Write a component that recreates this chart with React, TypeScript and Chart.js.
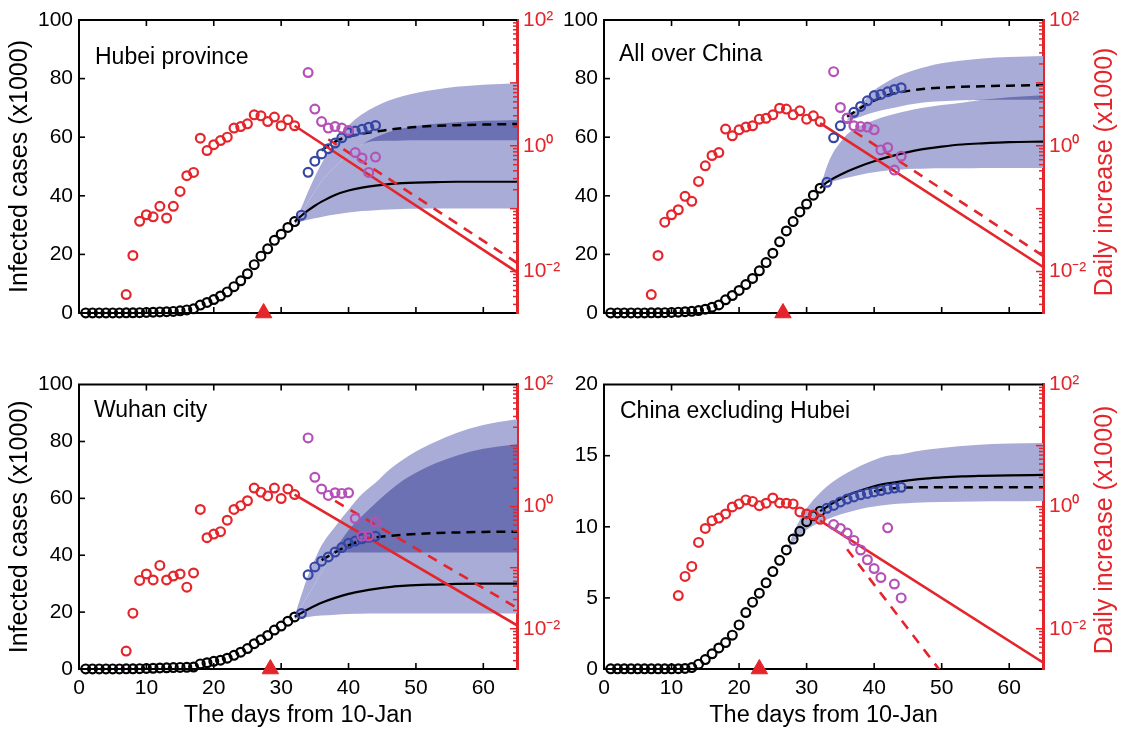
import React, { useEffect, useRef } from 'react';
import { Chart, registerables } from 'chart.js';

Chart.register(...registerables);

const FONT = '"Liberation Sans", Arial, Helvetica, sans-serif';
const RED = '#e4252b';
const BLUE = '#3646a4';
const MAGENTA = '#b550b6';
const BAND_LIGHT = '#a9acd6';
const BAND_DARK = '#6c71b3';

// ---- shared x positions (days from 10-Jan) ----
const cumDays = [1, 2, 3, 4, 5, 6, 7, 8, 9, 10, 11, 12, 13, 14, 15, 16, 17, 18, 19, 20, 21, 22, 23, 24, 25, 26, 27, 28, 29, 30, 31, 32];
const newDays = [33, 34, 35, 36, 37, 38, 39, 40, 41, 42, 43, 44];
const dailyDays = [7, 8, 9, 10, 11, 12, 13, 14, 15, 16, 17, 18, 19, 20, 21, 22, 23, 24, 25, 26, 27, 28, 29, 30, 31, 32];
const exDailyDays = [11, 12, 13, 14, 15, 16, 17, 18, 19, 20, 21, 22, 23, 24, 25, 26, 27, 28, 29, 30, 31, 32];
const newDailyDays = [34, 35, 36, 37, 38, 39, 40, 41, 42, 43, 44];
const fitDays = [32, 33, 34, 35, 36, 38, 40, 42, 44, 46, 48, 50, 53, 56, 60, 65];
const exBandDays = [27, 28, 29, 30, 32, 34, 36, 38, 40, 42, 44, 46, 50, 55, 60, 65];

const xTicks = [0, 10, 20, 30, 40, 50, 60];
const yTicks100 = [0, 20, 40, 60, 80, 100];
const yTicks20 = [0, 5, 10, 15, 20];
const logLabelExps = [-2, 0, 2];
const LOG_MIN = 0.00219;
const LOG_MAX = 100;

// ---- Hubei province ----
const hubeiCum = [0.04, 0.04, 0.04, 0.04, 0.04, 0.04, 0.05, 0.06, 0.12, 0.2, 0.27, 0.38, 0.44, 0.55, 0.73, 1.05, 1.42, 2.7, 3.6, 4.6, 5.8, 7.2, 9.0, 11.0, 13.4, 16.5, 19.4, 21.9, 24.8, 26.9, 29.2, 31.2];
const hubeiCumNew = [33.4, 48.0, 51.8, 54.3, 56.1, 58.0, 59.8, 61.5, 62.1, 62.7, 63.4, 64.0];
const hubeiDaily = [0.0043, 0.018, 0.063, 0.08, 0.074, 0.109, 0.071, 0.109, 0.188, 0.334, 0.377, 1.32, 0.84, 1.04, 1.21, 1.37, 1.91, 2.02, 2.23, 3.1, 2.99, 2.43, 2.86, 2.08, 2.59, 2.08];
const hubeiDailyNew = [14.6, 3.83, 2.43, 1.91, 2.02, 1.91, 1.75, 0.78, 0.64, 0.377, 0.66];
const hubeiFit = [31.2, 33.2, 35.0, 36.6, 38.0, 40.3, 41.8, 42.8, 43.5, 44.0, 44.3, 44.5, 44.7, 44.8, 44.8, 44.8];
const hubeiFitNew = [null, null, null, null, 55.5, 58.5, 60.2, 61.2, 61.9, 62.6, 63.1, 63.5, 63.9, 64.1, 64.3, 64.5];
const hubeiBandLo = [30.4, 31.2, 31.8, 32.3, 32.8, 33.6, 34.3, 34.8, 35.1, 35.3, 35.5, 35.6, 35.7, 35.7, 35.7, 35.7];
const hubeiBandHi = [31.2, 34, 38, 41.5, 45, 50, 54, 57.5, 60, 61.8, 63, 63.8, 64.6, 65.1, 65.6, 65.9];
const hubeiBand2Lo = [31.2, 34, 38, 41.5, 45, 50, 54, 57.5, 58.7, 58.8, 58.9, 59, 59, 59, 59, 59];
const hubeiBand2Hi = [31.2, 36, 41.5, 46.5, 51, 58.5, 64, 67.8, 70.5, 72.5, 74, 75.1, 76.3, 77.2, 77.9, 78.4];
const hubeiTrendDays = [32, 65];
const hubeiTrend = [2.08, 0.0098];
const hubeiTrendNewDays = [37, 65];
const hubeiTrendNew = [1.27, 0.0137];
const hubeiPeak = 27.4;

// ---- All over China ----
const chinaCum = [0.04, 0.04, 0.04, 0.04, 0.04, 0.04, 0.05, 0.06, 0.12, 0.2, 0.29, 0.44, 0.57, 0.83, 1.29, 1.98, 2.74, 4.5, 5.97, 7.7, 9.7, 11.8, 14.4, 17.2, 20.4, 24.3, 28.0, 31.2, 34.5, 37.2, 40.2, 42.6];
const chinaCumNew = [44.6, 59.8, 63.9, 66.5, 68.5, 70.5, 72.4, 74.2, 74.6, 75.5, 76.3, 76.9];
const chinaDaily = [0.0043, 0.018, 0.061, 0.08, 0.096, 0.157, 0.131, 0.271, 0.48, 0.7, 0.78, 1.84, 1.44, 1.79, 1.98, 2.08, 2.65, 2.74, 3.1, 3.96, 3.83, 3.1, 3.6, 2.65, 2.99, 2.43];
const chinaDailyNew = [15.1, 4.06, 2.75, 2.08, 2.02, 1.98, 1.79, 0.86, 0.94, 0.41, 0.68];
const chinaFit = [42.6, 44.6, 46.0, 47.2, 48.3, 50.2, 51.8, 53.2, 54.4, 55.4, 56.2, 56.8, 57.5, 57.9, 58.3, 58.5];
const chinaFitNew = [null, null, null, null, 67, 70, 72.5, 74.3, 75.4, 76.1, 76.6, 76.9, 77.2, 77.4, 77.6, 77.8];
const chinaBandLo = [42.6, 44.2, 45.0, 45.6, 46.2, 47.2, 48.0, 48.6, 49.0, 49.2, 49.3, 49.4, 49.4, 49.5, 49.5, 49.5];
const chinaBandHi = [42.6, 50, 55, 58.3, 61, 64, 65.8, 67.3, 68.5, 69.5, 70.3, 71, 71.8, 72.8, 73.6, 74.3];
const chinaBand2Lo = [null, null, null, null, 65.5, 67, 68.5, 69.6, 70.6, 71.4, 72, 72.3, 72.6, 72.7, 72.8, 72.8];
const chinaBand2Hi = [null, null, null, null, 66, 71, 76, 79, 81.3, 82.9, 84.2, 85.2, 86.2, 86.9, 87.4, 87.7];
const chinaTrendDays = [32, 65];
const chinaTrend = [2.29, 0.0118];
const chinaTrendNewDays = [37, 65];
const chinaTrendNew = [1.7, 0.0178];
const chinaPeak = 26.5;

// ---- Wuhan city ----
const wuhanCum = [0.04, 0.04, 0.04, 0.04, 0.04, 0.04, 0.05, 0.06, 0.12, 0.2, 0.26, 0.36, 0.43, 0.5, 0.57, 0.62, 0.7, 1.8, 2.2, 2.7, 3.1, 3.8, 4.8, 5.9, 7.2, 8.9, 10.3, 11.8, 13.7, 15.1, 16.8, 18.3];
const wuhanCumNew = [19.5, 33.1, 35.9, 37.9, 39.4, 41.1, 42.7, 44.2, 45.0, 45.8, 46.3, 46.7];
const wuhanDaily = [0.0043, 0.018, 0.062, 0.079, 0.063, 0.109, 0.063, 0.073, 0.079, 0.048, 0.082, 0.9, 0.31, 0.355, 0.39, 0.6, 0.9, 1.04, 1.25, 2.02, 1.73, 1.5, 2.02, 1.36, 1.95, 1.58];
const wuhanDailyNew = [13.4, 3.03, 1.95, 1.53, 1.69, 1.65, 1.69, 0.64, 0.33, 0.33, 0.56];
const wuhanFit = [18.4, 19.7, 21.0, 22.2, 23.3, 25.0, 26.4, 27.4, 28.2, 28.8, 29.2, 29.5, 29.7, 29.9, 30.0, 30.0];
const wuhanFitNew = [null, null, null, null, 38.3, 41.0, 43.5, 45.2, 46.3, 46.8, 47.2, 47.5, 47.8, 48.0, 48.2, 48.3];
const wuhanBandLo = [17.6, 18.0, 18.3, 18.6, 18.8, 19.1, 19.3, 19.4, 19.5, 19.5, 19.5, 19.5, 19.5, 19.5, 19.5, 19.5];
const wuhanBandHi = [18.5, 22, 26, 30, 34, 42, 48.8, 53.8, 58.3, 62.5, 66.2, 69, 72.4, 75, 77.4, 79];
const wuhanBand2Lo = [18.5, 22, 26, 30, 34, 40.8, 41, 41, 41, 41, 41, 41, 41, 41, 41, 41];
const wuhanBand2Hi = [18.5, 26, 33, 38.5, 43.5, 50, 56, 61.5, 65.5, 70, 73.5, 76.5, 80, 83, 85.8, 87.8];
const wuhanTrendDays = [32, 65];
const wuhanTrend = [1.58, 0.0114];
const wuhanTrendNewDays = [38, 65];
const wuhanTrendNew = [1.24, 0.022];
const wuhanPeak = 28.4;

// ---- China excluding Hubei ----
const exCum = [0.01, 0.01, 0.01, 0.01, 0.01, 0.01, 0.01, 0.01, 0.01, 0.01, 0.02, 0.04, 0.1, 0.34, 0.66, 1.07, 1.48, 1.86, 2.38, 3.1, 3.97, 4.7, 5.33, 6.06, 6.85, 7.64, 8.37, 9.14, 9.68, 10.36, 10.77, 11.1];
const exCumNew = [11.3, 11.5, 11.75, 11.95, 12.1, 12.25, 12.35, 12.45, 12.55, 12.65, 12.72, 12.78];
const exDaily = [0.035, 0.072, 0.105, 0.26, 0.44, 0.59, 0.65, 0.76, 0.99, 1.11, 1.29, 1.22, 1.04, 1.14, 1.39, 1.15, 1.14, 1.11, 0.82, 0.76, 0.73, 0.62];
const exDailyNew = [0.51, 0.44, 0.37, 0.28, 0.195, 0.135, 0.097, 0.069, 0.45, 0.054, 0.032];
const exFit = [11.1, 11.4, 11.7, 11.95, 12.2, 12.55, 12.85, 13.05, 13.2, 13.32, 13.4, 13.47, 13.54, 13.58, 13.62, 13.65];
const exFitNew = [null, null, null, null, null, null, 12.5, 12.67, 12.75, 12.77, 12.78, 12.78, 12.78, 12.78, 12.78, 12.78];
const exBandLo = [8.3, 8.9, 9.4, 9.8, 10.3, 10.7, 11.0, 11.25, 11.42, 11.55, 11.63, 11.69, 11.74, 11.78, 11.8, 11.82];
const exBandHi = [8.3, 9.5, 10.5, 11.3, 12.4, 13.2, 13.8, 14.3, 14.7, 15.0, 15.1, 15.3, 15.55, 15.75, 15.85, 15.9];
const exTrendDays = [32, 65];
const exTrend = [0.59, 0.0028];
const exTrendNewDays = [36, 50];
const exTrendNew = [0.2, 0.0019];
const exPeak = 23.0;

type Num = number | null;

interface PanelDef {
  key: string;
  left: number; top: number; w: number; h: number;
  padTop: number; yW: number; y2W: number; xH: number;
  showX: boolean; showYTitle: boolean;
  yMax: number; yTicks: number[];
  cum: number[]; cumNew: number[];
  daily: number[]; dailyX: number[]; dailyNew: number[];
  fit: Num[]; fitNew: Num[];
  bandX: number[]; bandLo: Num[]; bandHi: Num[]; band2Lo?: Num[]; band2Hi?: Num[];
  trendX: number[]; trend: number[]; trendNewX: number[]; trendNew: number[];
  peak: number;
}

const panels: PanelDef[] = [
  {
    key: 'hubei', left: 0, top: 0, w: 561, h: 366, padTop: 20, yW: 79, y2W: 44, xH: 53,
    showX: false, showYTitle: true, yMax: 100, yTicks: yTicks100,
    cum: hubeiCum, cumNew: hubeiCumNew, daily: hubeiDaily, dailyX: dailyDays, dailyNew: hubeiDailyNew,
    fit: hubeiFit, fitNew: hubeiFitNew, bandX: fitDays, bandLo: hubeiBandLo, bandHi: hubeiBandHi,
    band2Lo: hubeiBand2Lo, band2Hi: hubeiBand2Hi,
    trendX: hubeiTrendDays, trend: hubeiTrend, trendNewX: hubeiTrendNewDays, trendNew: hubeiTrendNew, peak: hubeiPeak,
  },
  {
    key: 'china', left: 561, top: 0, w: 562, h: 366, padTop: 20, yW: 43, y2W: 80, xH: 53,
    showX: false, showYTitle: false, yMax: 100, yTicks: yTicks100,
    cum: chinaCum, cumNew: chinaCumNew, daily: chinaDaily, dailyX: dailyDays, dailyNew: chinaDailyNew,
    fit: chinaFit, fitNew: chinaFitNew, bandX: fitDays, bandLo: chinaBandLo, bandHi: chinaBandHi,
    band2Lo: chinaBand2Lo, band2Hi: chinaBand2Hi,
    trendX: chinaTrendDays, trend: chinaTrend, trendNewX: chinaTrendNewDays, trendNew: chinaTrendNew, peak: chinaPeak,
  },
  {
    key: 'wuhan', left: 0, top: 366, w: 561, h: 367, padTop: 9, yW: 79, y2W: 44, xH: 64,
    showX: true, showYTitle: true, yMax: 100, yTicks: yTicks100,
    cum: wuhanCum, cumNew: wuhanCumNew, daily: wuhanDaily, dailyX: dailyDays, dailyNew: wuhanDailyNew,
    fit: wuhanFit, fitNew: wuhanFitNew, bandX: fitDays, bandLo: wuhanBandLo, bandHi: wuhanBandHi,
    band2Lo: wuhanBand2Lo, band2Hi: wuhanBand2Hi,
    trendX: wuhanTrendDays, trend: wuhanTrend, trendNewX: wuhanTrendNewDays, trendNew: wuhanTrendNew, peak: wuhanPeak,
  },
  {
    key: 'ex', left: 561, top: 366, w: 562, h: 367, padTop: 9, yW: 43, y2W: 80, xH: 64,
    showX: true, showYTitle: false, yMax: 20, yTicks: yTicks20,
    cum: exCum, cumNew: exCumNew, daily: exDaily, dailyX: exDailyDays, dailyNew: exDailyNew,
    fit: exFit, fitNew: exFitNew, bandX: exBandDays, bandLo: exBandLo, bandHi: exBandHi,
    trendX: exTrendDays, trend: exTrend, trendNewX: exTrendNewDays, trendNew: exTrendNew, peak: exPeak,
  },
];

const SUP: Record<string, string> = { '-': '\u207B', '0': '\u2070', '1': '\u00B9', '2': '\u00B2', '3': '\u00B3' };
function powLabel(e: number) {
  return '10' + String(e).split('').map((c) => SUP[c]).join('');
}

const framePlugin = {
  id: 'frame',
  afterDraw(chart: any) {
    const { ctx, chartArea: a } = chart;
    const sx = chart.scales.x, sy = chart.scales.y, sy2 = chart.scales.y2;
    ctx.save();
    ctx.lineCap = 'butt';
    ctx.strokeStyle = '#000';
    ctx.lineWidth = 2;
    ctx.beginPath();
    ctx.moveTo(a.left - 1, a.top);
    ctx.lineTo(a.right, a.top);
    ctx.stroke();
    ctx.lineWidth = 1.6;
    sx.ticks.forEach((t: any) => {
      const px = sx.getPixelForValue(t.value);
      if (px < a.left + 2 || px > a.right - 2) return;
      ctx.beginPath();
      ctx.moveTo(px, a.bottom);
      ctx.lineTo(px, a.bottom - 6);
      ctx.moveTo(px, a.top);
      ctx.lineTo(px, a.top + 6);
      ctx.stroke();
    });
    sy.ticks.forEach((t: any) => {
      const py = sy.getPixelForValue(t.value);
      if (py > a.bottom - 2 || py < a.top + 2) return;
      ctx.beginPath();
      ctx.moveTo(a.left, py);
      ctx.lineTo(a.left + 6, py);
      ctx.stroke();
    });
    ctx.strokeStyle = RED;
    ctx.lineWidth = 1.5;
    sy2.ticks.forEach((t: any) => {
      const py = sy2.getPixelForValue(t.value);
      if (py > a.bottom - 1 || py < a.top + 1) return;
      const len = t.major ? 7 : 4;
      ctx.beginPath();
      ctx.moveTo(a.right, py);
      ctx.lineTo(a.right - len, py);
      ctx.stroke();
    });
    ctx.restore();
  },
};

function overlapOf(aLo: Num[], aHi: Num[], bLo: Num[], bHi: Num[]) {
  const lo: Num[] = [];
  const hi: Num[] = [];
  for (let i = 0; i < aLo.length; i++) {
    const v = [aLo[i], aHi[i], bLo[i], bHi[i]];
    if (v.some((q) => q === null)) { lo.push(null); hi.push(null); continue; }
    const l = Math.max(aLo[i] as number, bLo[i] as number);
    const h = Math.min(aHi[i] as number, bHi[i] as number);
    lo.push(l);
    hi.push(h > l ? h : l);
  }
  return { lo, hi };
}

function buildConfig(d: PanelDef): any {
  const P = (xs: number[], ys: Num[]) => xs.map((x, i) => ({ x, y: ys[i] }));
  const clear = 'rgba(0,0,0,0)';
  const areaPair = (xs: number[], lo: Num[], hi: Num[], color: string, order: number) => [
    { data: P(xs, lo), yAxisID: 'y', borderColor: clear, borderWidth: 0, pointRadius: 0, fill: false, cubicInterpolationMode: 'monotone', order },
    { data: P(xs, hi), yAxisID: 'y', borderColor: clear, borderWidth: 0, pointRadius: 0, fill: '-1', backgroundColor: color, cubicInterpolationMode: 'monotone', order },
  ];
  const circles = (xs: number[], ys: number[], color: string, axis: string, order: number) => ({
    data: P(xs, ys), yAxisID: axis, showLine: false, pointStyle: 'circle', pointRadius: 4.4,
    pointBorderWidth: 2.2, pointBorderColor: color, pointBackgroundColor: clear, borderColor: color,
    backgroundColor: clear, clip: false, order,
  });
  const datasets: any[] = [];
  datasets.push(...areaPair(d.bandX, d.bandLo, d.bandHi, BAND_LIGHT, 50));
  if (d.band2Lo && d.band2Hi) {
    datasets.push(...areaPair(d.bandX, d.band2Lo, d.band2Hi, BAND_LIGHT, 50));
    const ov = overlapOf(d.bandLo, d.bandHi, d.band2Lo, d.band2Hi);
    datasets.push(...areaPair(d.bandX, ov.lo, ov.hi, BAND_DARK, 45));
  }
  datasets.push({ data: P(fitDays, d.fit), yAxisID: 'y', borderColor: '#000', borderWidth: 2.2, pointRadius: 0, fill: false, cubicInterpolationMode: 'monotone', order: 30 });
  datasets.push({ data: P(fitDays, d.fitNew), yAxisID: 'y', borderColor: '#000', borderWidth: 2.5, borderDash: [9, 6], pointRadius: 0, fill: false, cubicInterpolationMode: 'monotone', order: 30 });
  datasets.push({ data: P(d.trendX, d.trend), yAxisID: 'y2', borderColor: RED, borderWidth: 2.6, pointRadius: 0, fill: false, order: 25 });
  datasets.push({ data: P(d.trendNewX, d.trendNew), yAxisID: 'y2', borderColor: RED, borderWidth: 2.6, borderDash: [10, 8], pointRadius: 0, fill: false, order: 25 });
  datasets.push(circles(cumDays, d.cum, '#000', 'y', 12));
  datasets.push(circles(newDays, d.cumNew, BLUE, 'y', 11));
  datasets.push(circles(d.dailyX, d.daily, RED, 'y2', 10));
  datasets.push(circles(newDailyDays, d.dailyNew, MAGENTA, 'y2', 9));
  datasets.push({
    data: [{ x: d.peak, y: 0 }], yAxisID: 'y', showLine: false, pointStyle: 'triangle', pointRadius: 9.5,
    pointBackgroundColor: RED, pointBorderColor: RED, pointBorderWidth: 1, borderColor: RED, clip: false, order: 0,
  });

  const tickFont = { family: FONT, size: 21 };
  return {
    type: 'line',
    data: { datasets },
    options: {
      responsive: false,
      animation: false,
      events: [],
      layout: { padding: { top: d.padTop, left: 0, right: 0, bottom: 0 }, autoPadding: false },
      plugins: { legend: { display: false }, tooltip: { enabled: false }, title: { display: false } },
      scales: {
        x: {
          type: 'linear', position: 'bottom', min: 0, max: 65,
          afterBuildTicks: (s: any) => { s.ticks = xTicks.map((v) => ({ value: v })); },
          afterFit: (s: any) => { s.height = d.xH; },
          grid: { display: false, drawTicks: false },
          border: { display: true, color: '#000', width: 2 },
          ticks: { display: d.showX, color: '#000', font: tickFont, padding: 7, maxRotation: 0, autoSkip: false },
          title: { display: d.showX, text: 'The days from 10-Jan', color: '#000', font: { family: FONT, size: 23.5 }, padding: { top: 0, bottom: 3 } },
        },
        y: {
          type: 'linear', position: 'left', min: 0, max: d.yMax,
          afterBuildTicks: (s: any) => { s.ticks = d.yTicks.map((v) => ({ value: v })); },
          afterFit: (s: any) => { s.width = d.yW; },
          grid: { display: false, drawTicks: false },
          border: { display: true, color: '#000', width: 2 },
          ticks: { color: '#000', font: tickFont, padding: 6, autoSkip: false },
          title: { display: d.showYTitle, text: 'Infected cases (x1000)', color: '#000', font: { family: FONT, size: 25 }, padding: { top: 5, bottom: 0 } },
        },
        y2: {
          type: 'logarithmic', position: 'right', min: LOG_MIN, max: LOG_MAX, z: 1,
          afterBuildTicks: (s: any) => {
            const t: any[] = [];
            for (let e = -3; e <= 2; e++) {
              for (let k = 1; k <= 9; k++) {
                const v = k * Math.pow(10, e);
                if (v >= LOG_MIN && v <= LOG_MAX * 1.0001) t.push({ value: v, major: k === 1 });
              }
            }
            s.ticks = t;
          },
          afterFit: (s: any) => { s.width = d.y2W; },
          grid: { display: false, drawTicks: false },
          border: { display: true, color: RED, width: 3 },
          ticks: {
            color: RED, font: tickFont, padding: 6, autoSkip: false,
            callback: (value: any) => {
              const v = Number(value);
              const e = Math.round(Math.log10(v));
              if (Math.abs(v / Math.pow(10, e) - 1) < 1e-6 && logLabelExps.includes(e)) return powLabel(e);
              return '';
            },
          },
        },
      },
    },
    plugins: [framePlugin],
  };
}

function PanelChart({ def }: { def: PanelDef }) {
  const ref = useRef<HTMLCanvasElement>(null);
  useEffect(() => {
    if (!ref.current) return;
    const chart = new Chart(ref.current, buildConfig(def));
    return () => chart.destroy();
  }, [def]);
  return (
    <canvas
      ref={ref}
      width={def.w}
      height={def.h}
      style={{ position: 'absolute', left: def.left, top: def.top, width: def.w, height: def.h }}
    />
  );
}

const panelLabels = [
  { text: 'Hubei province', left: 95, top: 45 },
  { text: 'All over China', left: 619, top: 42 },
  { text: 'Wuhan city', left: 94, top: 398 },
  { text: 'China excluding Hubei', left: 620, top: 399 },
];

const rightTitles = [
  { text: 'Daily increase (x1000)', cx: 1103, cy: 172 },
  { text: 'Daily increase (x1000)', cx: 1103, cy: 530 },
];

export default function App() {
  return (
    <div style={{ position: 'fixed', left: 0, top: 0, width: 1123, height: 733, background: '#fff', overflow: 'hidden', fontFamily: FONT }}>
      {panels.map((p) => (
        <PanelChart key={p.key} def={p} />
      ))}
      {panelLabels.map((l) => (
        <div key={l.text} style={{ position: 'absolute', left: l.left, top: l.top, fontSize: 23, lineHeight: 1, color: '#000', whiteSpace: 'nowrap' }}>
          {l.text}
        </div>
      ))}
      {rightTitles.map((t, i) => (
        <div
          key={i}
          style={{
            position: 'absolute', left: t.cx, top: t.cy, fontSize: 25, lineHeight: 1, color: RED, whiteSpace: 'nowrap',
            transform: 'translate(-50%, -50%) rotate(-90deg)',
          }}
        >
          {t.text}
        </div>
      ))}
    </div>
  );
}
